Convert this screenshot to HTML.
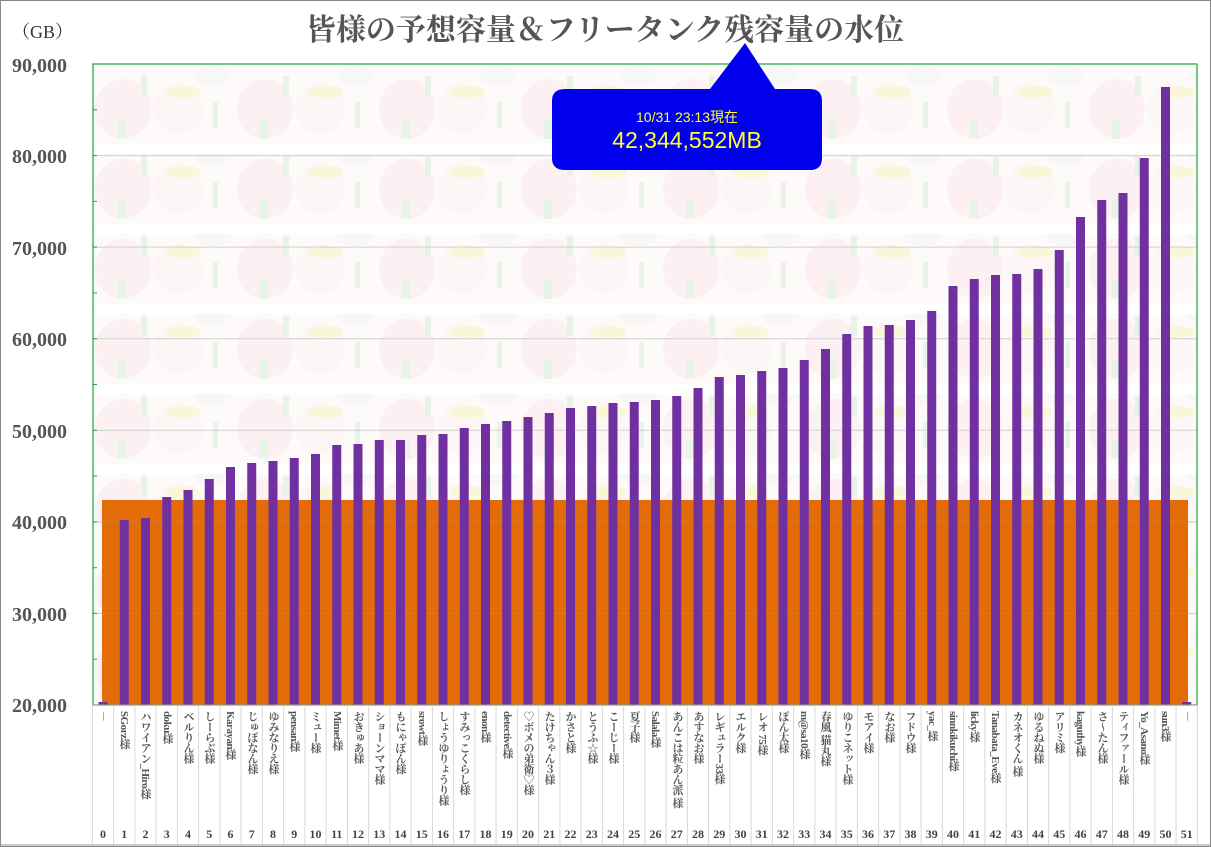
<!DOCTYPE html>
<html><head><meta charset="utf-8"><style>
body{margin:0;width:1211px;height:847px;position:relative;background:#fff;overflow:hidden;font-family:"Liberation Serif","Noto Serif CJK SC",serif}
.n{position:absolute;top:711px;width:14px;writing-mode:vertical-rl;font-size:11px;font-weight:bold;color:#555;line-height:14px;white-space:nowrap;letter-spacing:-0.5px}
</style></head><body>
<svg width="1211" height="847" style="position:absolute;left:0;top:0">
<defs>
<pattern id="bg" x="93" y="64" width="142" height="80" patternUnits="userSpaceOnUse">
<rect width="142" height="80" fill="#fefafa"/>
<ellipse cx="30" cy="45" rx="28" ry="30" fill="#fcf0f2"/>
<ellipse cx="85" cy="45" rx="25" ry="25" fill="#fcf6f6"/>
<ellipse cx="90" cy="28" rx="18" ry="6" fill="#faf6d8"/>
<ellipse cx="120" cy="12" rx="18" ry="10" fill="#f7f7f7"/>
<rect x="48" y="12" width="6" height="20" fill="#e6f3e6"/>
<rect x="120" y="38" width="5" height="26" fill="#e8f4e8"/>
<rect x="25" y="55" width="8" height="20" fill="#e8f4e8"/>
</pattern>
</defs>
<rect x="0.5" y="0.5" width="1210" height="846" fill="none" stroke="#888"/>
<rect x="93" y="64" width="1104" height="641" fill="url(#bg)"/>
<g fill="#fff"><rect x="93" y="144" width="1104" height="10"/><rect x="93" y="224" width="1104" height="10"/><rect x="93" y="304" width="1104" height="10"/><rect x="93" y="384" width="1104" height="10"/><rect x="93" y="464" width="1104" height="10"/></g>
<g stroke="#d0d0d0" stroke-width="1"><line x1="93" x2="1197" y1="155.6" y2="155.6"/><line x1="93" x2="1197" y1="247.1" y2="247.1"/><line x1="93" x2="1197" y1="338.7" y2="338.7"/><line x1="93" x2="1197" y1="430.3" y2="430.3"/></g>
<rect x="102" y="500" width="1086" height="205" fill="#e36c09"/>
<g stroke="#999" stroke-width="1" opacity="0.5"><line x1="93" x2="1197" y1="521.9" y2="521.9"/><line x1="93" x2="1197" y1="613.4" y2="613.4"/></g>
<g fill="#7030a0">
<rect x="98.5" y="702" width="9" height="3"/><rect x="1182.25" y="702" width="9" height="3"/>
<rect x="119.75" y="520" width="9" height="185"/><rect x="141" y="518" width="9" height="187"/><rect x="162.25" y="497" width="9" height="208"/><rect x="183.5" y="490" width="9" height="215"/><rect x="204.75" y="479" width="9" height="226"/><rect x="226" y="467" width="9" height="238"/><rect x="247.25" y="463" width="9" height="242"/><rect x="268.5" y="461" width="9" height="244"/><rect x="289.75" y="458" width="9" height="247"/><rect x="311" y="454" width="9" height="251"/><rect x="332.25" y="445" width="9" height="260"/><rect x="353.5" y="444" width="9" height="261"/><rect x="374.75" y="440" width="9" height="265"/><rect x="396" y="440" width="9" height="265"/><rect x="417.25" y="435" width="9" height="270"/><rect x="438.5" y="434" width="9" height="271"/><rect x="459.75" y="428" width="9" height="277"/><rect x="481" y="424" width="9" height="281"/><rect x="502.25" y="421" width="9" height="284"/><rect x="523.5" y="417" width="9" height="288"/><rect x="544.75" y="413" width="9" height="292"/><rect x="566" y="408" width="9" height="297"/><rect x="587.25" y="406" width="9" height="299"/><rect x="608.5" y="403" width="9" height="302"/><rect x="629.75" y="402" width="9" height="303"/><rect x="651" y="400" width="9" height="305"/><rect x="672.25" y="396" width="9" height="309"/><rect x="693.5" y="388" width="9" height="317"/><rect x="714.75" y="377" width="9" height="328"/><rect x="736" y="375" width="9" height="330"/><rect x="757.25" y="371" width="9" height="334"/><rect x="778.5" y="368" width="9" height="337"/><rect x="799.75" y="360" width="9" height="345"/><rect x="821" y="349" width="9" height="356"/><rect x="842.25" y="334" width="9" height="371"/><rect x="863.5" y="326" width="9" height="379"/><rect x="884.75" y="325" width="9" height="380"/><rect x="906" y="320" width="9" height="385"/><rect x="927.25" y="311" width="9" height="394"/><rect x="948.5" y="286" width="9" height="419"/><rect x="969.75" y="279" width="9" height="426"/><rect x="991" y="275" width="9" height="430"/><rect x="1012.25" y="274" width="9" height="431"/><rect x="1033.5" y="269" width="9" height="436"/><rect x="1054.75" y="250" width="9" height="455"/><rect x="1076" y="217" width="9" height="488"/><rect x="1097.25" y="200" width="9" height="505"/><rect x="1118.5" y="193" width="9" height="512"/><rect x="1139.75" y="158" width="9" height="547"/><rect x="1161" y="87" width="9" height="618"/>
</g>
<rect x="93" y="64" width="1104" height="641" fill="none" stroke="#1aa53a" stroke-width="1.2"/>
<line x1="93" x2="1197" y1="705" y2="705" stroke="#999"/>
<g stroke="#1aa53a"><line x1="93" x2="97" y1="109.8" y2="109.8"/><line x1="93" x2="97" y1="155.6" y2="155.6"/><line x1="93" x2="97" y1="201.4" y2="201.4"/><line x1="93" x2="97" y1="247.1" y2="247.1"/><line x1="93" x2="97" y1="292.9" y2="292.9"/><line x1="93" x2="97" y1="338.7" y2="338.7"/><line x1="93" x2="97" y1="384.5" y2="384.5"/><line x1="93" x2="97" y1="430.3" y2="430.3"/><line x1="93" x2="97" y1="476" y2="476"/><line x1="93" x2="97" y1="521.9" y2="521.9"/><line x1="93" x2="97" y1="567.7" y2="567.7"/><line x1="93" x2="97" y1="613.4" y2="613.4"/><line x1="93" x2="97" y1="659.2" y2="659.2"/></g>
<g stroke="#d8d8d8">
<line x1="92.4" x2="92.4" y1="705" y2="845"/><line x1="113.6" x2="113.6" y1="705" y2="845"/><line x1="134.9" x2="134.9" y1="705" y2="845"/><line x1="156.1" x2="156.1" y1="705" y2="845"/><line x1="177.4" x2="177.4" y1="705" y2="845"/><line x1="198.6" x2="198.6" y1="705" y2="845"/><line x1="219.9" x2="219.9" y1="705" y2="845"/><line x1="241.1" x2="241.1" y1="705" y2="845"/><line x1="262.4" x2="262.4" y1="705" y2="845"/><line x1="283.6" x2="283.6" y1="705" y2="845"/><line x1="304.9" x2="304.9" y1="705" y2="845"/><line x1="326.1" x2="326.1" y1="705" y2="845"/><line x1="347.4" x2="347.4" y1="705" y2="845"/><line x1="368.6" x2="368.6" y1="705" y2="845"/><line x1="389.9" x2="389.9" y1="705" y2="845"/><line x1="411.1" x2="411.1" y1="705" y2="845"/><line x1="432.4" x2="432.4" y1="705" y2="845"/><line x1="453.6" x2="453.6" y1="705" y2="845"/><line x1="474.9" x2="474.9" y1="705" y2="845"/><line x1="496.1" x2="496.1" y1="705" y2="845"/><line x1="517.4" x2="517.4" y1="705" y2="845"/><line x1="538.6" x2="538.6" y1="705" y2="845"/><line x1="559.9" x2="559.9" y1="705" y2="845"/><line x1="581.1" x2="581.1" y1="705" y2="845"/><line x1="602.4" x2="602.4" y1="705" y2="845"/><line x1="623.6" x2="623.6" y1="705" y2="845"/><line x1="644.9" x2="644.9" y1="705" y2="845"/><line x1="666.1" x2="666.1" y1="705" y2="845"/><line x1="687.4" x2="687.4" y1="705" y2="845"/><line x1="708.6" x2="708.6" y1="705" y2="845"/><line x1="729.9" x2="729.9" y1="705" y2="845"/><line x1="751.1" x2="751.1" y1="705" y2="845"/><line x1="772.4" x2="772.4" y1="705" y2="845"/><line x1="793.6" x2="793.6" y1="705" y2="845"/><line x1="814.9" x2="814.9" y1="705" y2="845"/><line x1="836.1" x2="836.1" y1="705" y2="845"/><line x1="857.4" x2="857.4" y1="705" y2="845"/><line x1="878.6" x2="878.6" y1="705" y2="845"/><line x1="899.9" x2="899.9" y1="705" y2="845"/><line x1="921.1" x2="921.1" y1="705" y2="845"/><line x1="942.4" x2="942.4" y1="705" y2="845"/><line x1="963.6" x2="963.6" y1="705" y2="845"/><line x1="984.9" x2="984.9" y1="705" y2="845"/><line x1="1006.1" x2="1006.1" y1="705" y2="845"/><line x1="1027.4" x2="1027.4" y1="705" y2="845"/><line x1="1048.6" x2="1048.6" y1="705" y2="845"/><line x1="1069.9" x2="1069.9" y1="705" y2="845"/><line x1="1091.1" x2="1091.1" y1="705" y2="845"/><line x1="1112.4" x2="1112.4" y1="705" y2="845"/><line x1="1133.6" x2="1133.6" y1="705" y2="845"/><line x1="1154.9" x2="1154.9" y1="705" y2="845"/><line x1="1176.1" x2="1176.1" y1="705" y2="845"/><line x1="1197.4" x2="1197.4" y1="705" y2="845"/>
</g>
<line x1="0" x2="1211" y1="845" y2="845" stroke="#999"/>
<g font-family="Liberation Serif,serif" font-size="20" font-weight="bold" fill="#555" text-anchor="end">
<text x="67" y="72">90,000</text><text x="67" y="163">80,000</text><text x="67" y="255">70,000</text><text x="67" y="346">60,000</text><text x="67" y="438">50,000</text><text x="67" y="529">40,000</text><text x="67" y="621">30,000</text><text x="67" y="712">20,000</text>
</g>
<text x="12" y="38" font-family="Liberation Serif,'Noto Serif CJK SC',serif" font-size="18" fill="#333">（GB）</text>
<text x="605" y="40" text-anchor="middle" font-family="'Liberation Serif','Noto Serif CJK SC',serif" font-weight="bold" font-size="30" fill="#555">皆様の予想容量＆フリータンク残容量の水位</text>
<path d="M565 89 H710 L745 43 L775 89 H810 Q822 89 822 101 V158 Q822 170 810 170 H565 Q552 170 552 158 V101 Q552 89 565 89 Z" fill="#0000ee"/>
<text x="687" y="122" text-anchor="middle" font-family="'Liberation Sans','Noto Sans CJK JP',sans-serif" font-size="14" fill="#ffff33">10/31 23:13現在</text>
<text x="687" y="148" text-anchor="middle" font-family="'Liberation Sans',sans-serif" font-size="23" fill="#ffff33">42,344,552MB</text>
<g font-family="Liberation Serif,serif" font-size="12" font-weight="bold" fill="#444" text-anchor="middle">
<text x="103" y="838">0</text><text x="124.25" y="838">1</text><text x="145.5" y="838">2</text><text x="166.75" y="838">3</text><text x="188" y="838">4</text><text x="209.25" y="838">5</text><text x="230.5" y="838">6</text><text x="251.75" y="838">7</text><text x="273" y="838">8</text><text x="294.25" y="838">9</text><text x="315.5" y="838">10</text><text x="336.75" y="838">11</text><text x="358" y="838">12</text><text x="379.25" y="838">13</text><text x="400.5" y="838">14</text><text x="421.75" y="838">15</text><text x="443" y="838">16</text><text x="464.25" y="838">17</text><text x="485.5" y="838">18</text><text x="506.75" y="838">19</text><text x="528" y="838">20</text><text x="549.25" y="838">21</text><text x="570.5" y="838">22</text><text x="591.75" y="838">23</text><text x="613" y="838">24</text><text x="634.25" y="838">25</text><text x="655.5" y="838">26</text><text x="676.75" y="838">27</text><text x="698" y="838">28</text><text x="719.25" y="838">29</text><text x="740.5" y="838">30</text><text x="761.75" y="838">31</text><text x="783" y="838">32</text><text x="804.25" y="838">33</text><text x="825.5" y="838">34</text><text x="846.75" y="838">35</text><text x="868" y="838">36</text><text x="889.25" y="838">37</text><text x="910.5" y="838">38</text><text x="931.75" y="838">39</text><text x="953" y="838">40</text><text x="974.25" y="838">41</text><text x="995.5" y="838">42</text><text x="1016.75" y="838">43</text><text x="1038" y="838">44</text><text x="1059.25" y="838">45</text><text x="1080.5" y="838">46</text><text x="1101.75" y="838">47</text><text x="1123" y="838">48</text><text x="1144.25" y="838">49</text><text x="1165.5" y="838">50</text><text x="1186.75" y="838">51</text>
</g>
</svg>
<div class="n" style="left:96px">－</div>
<div class="n" style="left:117px">SGorz様</div>
<div class="n" style="left:138px">ハワイアン_Hiro様</div>
<div class="n" style="left:160px">doku様</div>
<div class="n" style="left:181px">ベルりん様</div>
<div class="n" style="left:202px">しーらぶ様</div>
<div class="n" style="left:223px">Karayan様</div>
<div class="n" style="left:245px">じゅぽなん様</div>
<div class="n" style="left:266px">ゆみなりえ様</div>
<div class="n" style="left:287px">pensan様</div>
<div class="n" style="left:308px">ミュー様</div>
<div class="n" style="left:330px">Mimet様</div>
<div class="n" style="left:351px">おきゅあ様</div>
<div class="n" style="left:372px">ショーンママ様</div>
<div class="n" style="left:393px">もにゃぽん様</div>
<div class="n" style="left:415px">srowt様</div>
<div class="n" style="left:436px">しょうゆりょうり様</div>
<div class="n" style="left:457px">すみっこくらし様</div>
<div class="n" style="left:478px">enon様</div>
<div class="n" style="left:500px">detective様</div>
<div class="n" style="left:521px">♡ボメの弟衛♡様</div>
<div class="n" style="left:542px">たけちゃん３様</div>
<div class="n" style="left:563px">かさと様</div>
<div class="n" style="left:585px">とうふ☆様</div>
<div class="n" style="left:606px">こーじー様</div>
<div class="n" style="left:627px">夏子様</div>
<div class="n" style="left:648px">Salala様</div>
<div class="n" style="left:670px">あんこは粒あん派 様</div>
<div class="n" style="left:691px">あすなお様</div>
<div class="n" style="left:712px">レギュラー33様</div>
<div class="n" style="left:733px">エルク様</div>
<div class="n" style="left:755px">レオ 75様</div>
<div class="n" style="left:776px">ぽん太様</div>
<div class="n" style="left:797px">m@sa10様</div>
<div class="n" style="left:818px">春風 猫丸様</div>
<div class="n" style="left:840px">ゆりこネット様</div>
<div class="n" style="left:861px">モアイ様</div>
<div class="n" style="left:882px">なお様</div>
<div class="n" style="left:903px">フドウ様</div>
<div class="n" style="left:925px">yac_様</div>
<div class="n" style="left:946px">sinnkikuchi様</div>
<div class="n" style="left:967px">licky様</div>
<div class="n" style="left:988px">Tanabata_Eve様</div>
<div class="n" style="left:1010px">カネオくん 様</div>
<div class="n" style="left:1031px">ゆるねぬ様</div>
<div class="n" style="left:1052px">アリミ様</div>
<div class="n" style="left:1073px">kaguthy様</div>
<div class="n" style="left:1095px">さ～たん様</div>
<div class="n" style="left:1116px">ティファール様</div>
<div class="n" style="left:1137px">Yo_Asano様</div>
<div class="n" style="left:1158px">sun3様</div>
<div class="n" style="left:1180px">－</div>
</body></html>
